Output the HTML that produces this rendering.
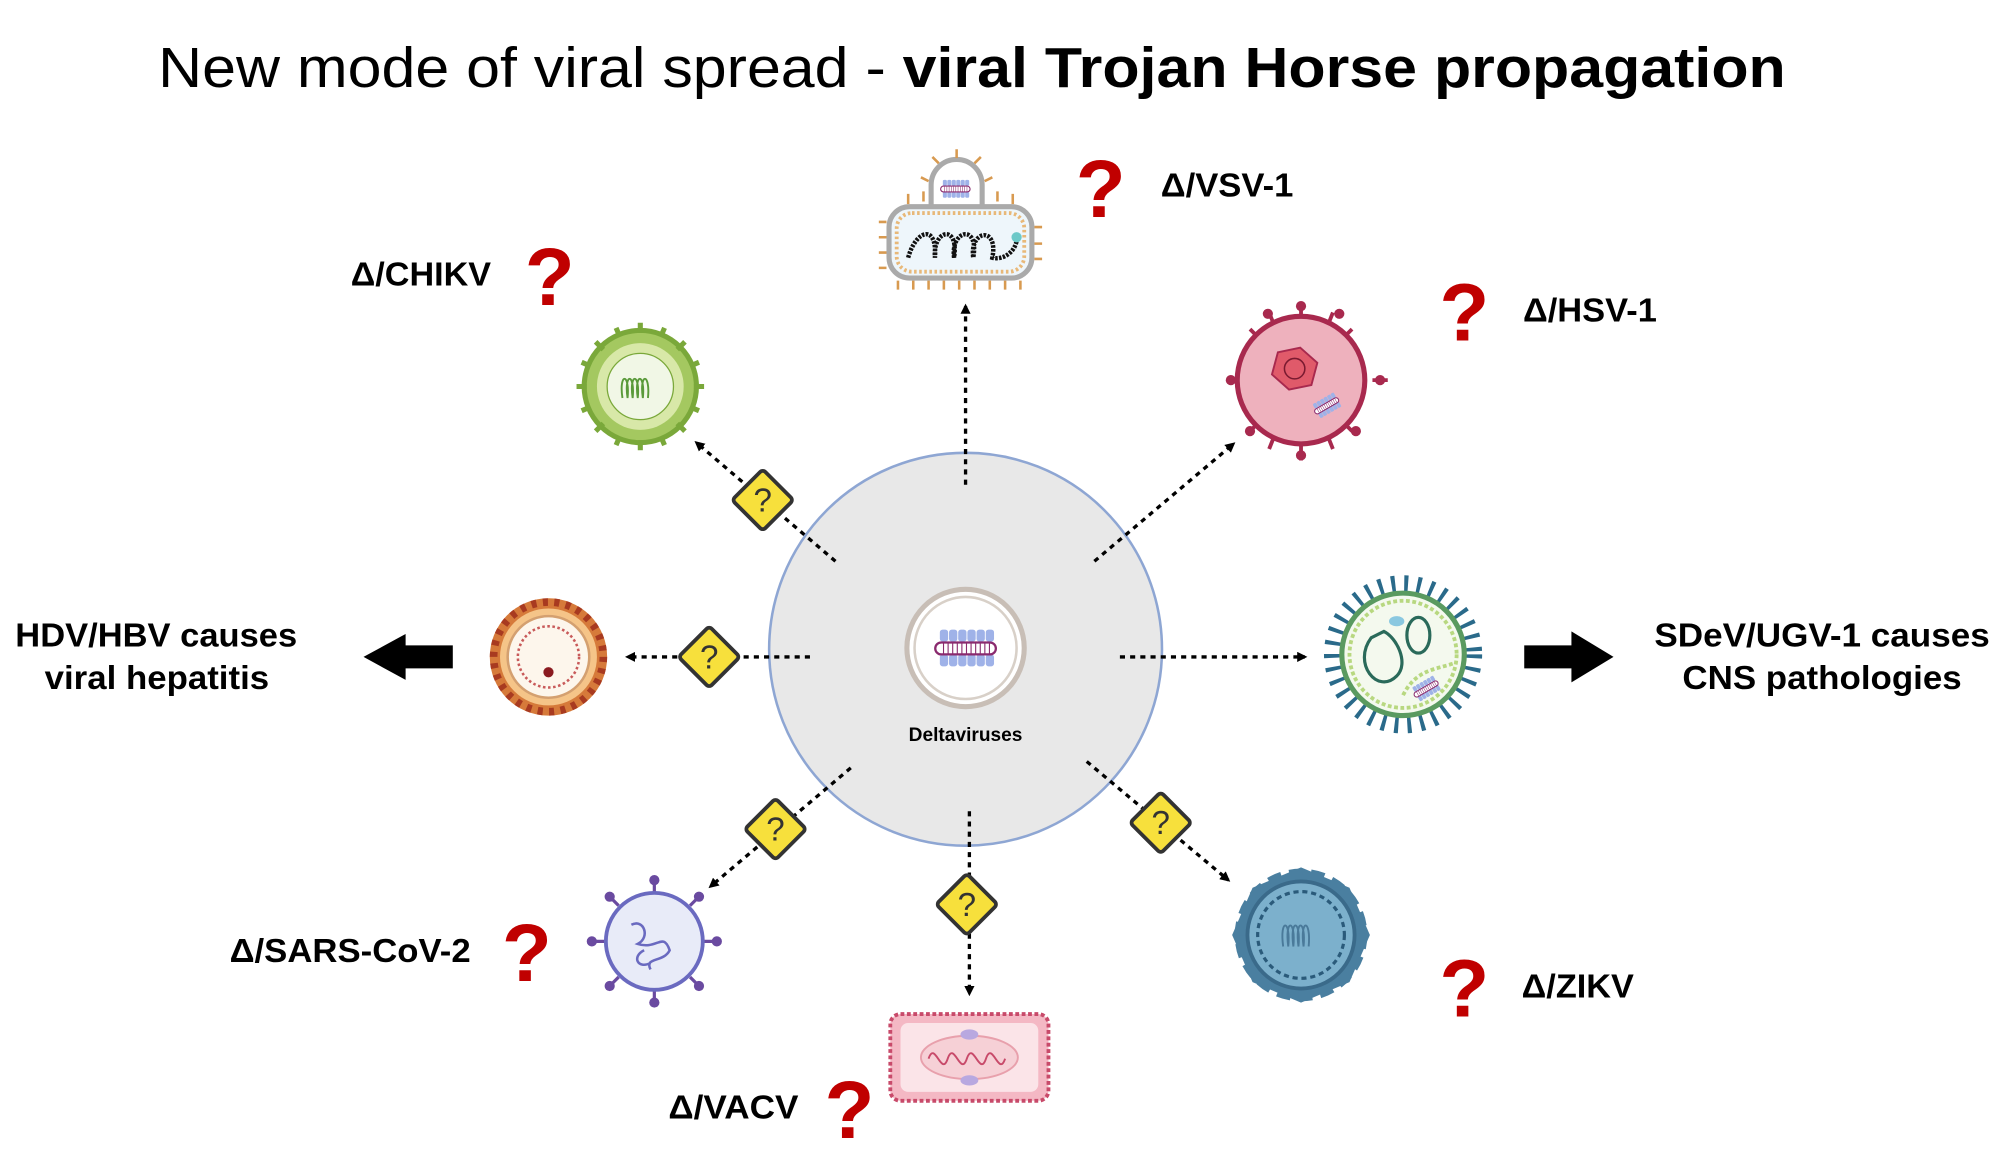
<!DOCTYPE html>
<html><head><meta charset="utf-8"><style>
html,body{margin:0;padding:0;background:#fff;}
svg{display:block;}
text{font-family:"Liberation Sans",Arial,sans-serif;}
</style></head><body>
<svg width="2000" height="1154" viewBox="0 0 1568 904.7" xmlns="http://www.w3.org/2000/svg">
<defs>
<marker id="ah" markerWidth="8" markerHeight="8" refX="6" refY="4" orient="auto" markerUnits="userSpaceOnUse">
<path d="M0,0 L8,4 L0,8 Z" fill="#000"/></marker>
<g id="dia"><rect x="-17" y="-17" width="34" height="34" rx="3" transform="rotate(45)" fill="#f7e03c" stroke="#333" stroke-width="3"/>
<text x="0" y="9" font-family="Liberation Serif,serif" font-size="26" text-anchor="middle" fill="#333">?</text></g>
<g id="rna"><g fill="#9fb2e8"><rect x="-28" y="-20" width="9" height="13" rx="3"/><rect x="-18" y="-20" width="9" height="13" rx="3"/><rect x="-8" y="-20" width="9" height="13" rx="3"/><rect x="2" y="-20" width="9" height="13" rx="3"/><rect x="12" y="-20" width="9" height="13" rx="3"/><rect x="22" y="-20" width="9" height="13" rx="3"/>
<rect x="-28" y="7" width="9" height="13" rx="3"/><rect x="-18" y="7" width="9" height="13" rx="3"/><rect x="-8" y="7" width="9" height="13" rx="3"/><rect x="2" y="7" width="9" height="13" rx="3"/><rect x="12" y="7" width="9" height="13" rx="3"/><rect x="22" y="7" width="9" height="13" rx="3"/></g>
<rect x="-33" y="-6" width="66" height="13" rx="6.5" fill="#fff" stroke="#8a2a6e" stroke-width="2.5"/>
<path d="M-24,-5v11M-19,-5v11M-14,-5v11M-9,-5v11M-4,-5v11M1,-5v11M6,-5v11M11,-5v11M16,-5v11M21,-5v11M26,-5v11" stroke="#8a2a6e" stroke-width="1.2"/></g>
</defs>
<rect width="1568" height="905" fill="#fff"/>
<text x="124" y="68" font-size="44" textLength="1276" lengthAdjust="spacingAndGlyphs">New mode of viral spread - <tspan font-weight="bold">viral Trojan Horse propagation</tspan></text>

<circle cx="757" cy="509" r="154" fill="#e8e8e8" stroke="#8ea6d3" stroke-width="2"/>
<circle cx="757" cy="508" r="46" fill="#fff" stroke="#c8beb6" stroke-width="4"/>
<circle cx="757" cy="508" r="40" fill="none" stroke="#d8d0c8" stroke-width="2"/>
<use href="#rna" transform="translate(757,508) scale(0.72)"/>
<text x="757" y="581" font-size="15" font-weight="bold" text-anchor="middle">Deltaviruses</text>

<g stroke="#000" stroke-width="2.6" stroke-dasharray="4 4" fill="none" marker-end="url(#ah)">
<line x1="757" y1="380" x2="757" y2="240"/>
<line x1="655" y1="440" x2="546" y2="347"/>
<line x1="858" y1="440" x2="967" y2="348"/>
<line x1="635" y1="515" x2="492" y2="515"/>
<line x1="878" y1="515" x2="1023" y2="515"/>
<line x1="667" y1="602" x2="557" y2="695"/>
<line x1="760" y1="636" x2="760" y2="779"/>
<line x1="852" y1="597" x2="963" y2="690"/>
</g>
<use href="#dia" x="598" y="392"/>
<use href="#dia" x="556" y="515"/>
<use href="#dia" x="608" y="650"/>
<use href="#dia" x="758" y="709"/>
<use href="#dia" x="910" y="645"/>

<path d="M355,506 H318 V497 L285,515 L318,533 V524 H355 Z" fill="#000"/>
<path d="M1195,506 H1232 V495 L1265,515 L1232,535 V524 H1195 Z" fill="#000"/>

<g font-weight="bold" font-size="26">
<text x="12" y="507" textLength="221" lengthAdjust="spacingAndGlyphs">HDV/HBV causes</text>
<text x="35" y="540" textLength="176" lengthAdjust="spacingAndGlyphs">viral hepatitis</text>
<text x="1297" y="507" textLength="263" lengthAdjust="spacingAndGlyphs">SDeV/UGV-1 causes</text>
<text x="1319" y="540" textLength="219" lengthAdjust="spacingAndGlyphs">CNS pathologies</text>
<text x="910" y="154" textLength="104" lengthAdjust="spacingAndGlyphs">Δ/VSV-1</text>
<text x="275" y="224" textLength="110" lengthAdjust="spacingAndGlyphs">Δ/CHIKV</text>
<text x="1194" y="252" textLength="105" lengthAdjust="spacingAndGlyphs">Δ/HSV-1</text>
<text x="180" y="754" textLength="189" lengthAdjust="spacingAndGlyphs">Δ/SARS-CoV-2</text>
<text x="524" y="877" textLength="102" lengthAdjust="spacingAndGlyphs">Δ/VACV</text>
<text x="1193" y="782" textLength="88" lengthAdjust="spacingAndGlyphs">Δ/ZIKV</text>
</g>
<g font-weight="bold" font-size="64" fill="#c00000" text-anchor="middle">
<text x="863" y="170">?</text>
<text x="431" y="239">?</text>
<text x="1148" y="267">?</text>
<text x="413" y="769">?</text>
<text x="666" y="892">?</text>
<text x="1148" y="797">?</text>
</g>

<!-- VSV -->
<g>
<path d="M730,163 V145 a20,20 0 0 1 40,0 V163" fill="#fff" stroke="#aaa" stroke-width="4"/>
<rect x="697" y="162" width="112" height="56" rx="16" fill="#eef6fb" stroke="#aaa" stroke-width="4"/>
<rect x="703" y="167" width="100" height="46" rx="12" fill="none" stroke="#e8b878" stroke-width="3" stroke-dasharray="2 2"/>
<g stroke="#d89a50" stroke-width="2">
<path d="M695,174h-6M695,186h-6M695,198h-6M695,210h-6M811,178h6M811,191h6M811,203h6"/>
<path d="M704,220v7M716,220v7M728,220v7M740,220v7M752,220v7M764,220v7M776,220v7M788,220v7M800,220v7M712,160v-8M724,158v-8M782,158v-8M794,160v-8M728,142l-6,-3M772,142l6,-3M736,128l-5,-5M764,128l5,-5M750,124v-7"/>
</g>
<path d="M712,202 C718,180 735,175 733,202 C731,180 752,175 748,202 C745,180 768,175 763,202 C760,180 783,177 778,202 C785,204 795,199 797,189" fill="none" stroke="#111" stroke-width="3.5" stroke-dasharray="2 1"/>
<circle cx="797" cy="186" r="4" fill="#6cc8c8"/>
<use href="#rna" transform="translate(749,148) scale(0.35)"/>
</g>

<!-- CHIKV -->
<g>
<circle cx="502" cy="303" r="44" fill="#a4c860" stroke="#7aa83a" stroke-width="4"/>
<circle cx="502" cy="303" r="34" fill="#d8e8a8"/>
<circle cx="502" cy="303" r="26" fill="#f1f7e6" stroke="#7aa83a" stroke-width="1"/>
<path d="M488,312 c-3,-20 6,-20 4,0 c-3,-20 6,-20 4,0 c-3,-20 6,-20 4,0 c-3,-20 6,-20 4,0 c-3,-20 6,-20 4,0" fill="none" stroke="#5a9a3a" stroke-width="1.5"/>
<g stroke="#7aa83a" stroke-width="4">
<path d="M502,253v8M502,345v8M452,303h8M544,303h8M467,268l6,6M537,268l-6,6M467,338l6,-6M537,338l-6,-6M483,257l3,7M521,257l-3,7M483,349l3,-7M521,349l-3,-7M456,284l7,3M548,284l-7,3M456,322l7,-3M548,322l-7,-3"/>
</g>
</g>

<!-- HSV -->
<g>
<g stroke="#a8294e" stroke-width="3">
<path d="M1020,237v14M1020,347v14M963,298h12M1076,298h12M980,258l9,9M1060,258l-9,9M980,338l9,-9M1060,338l-9,-9M995,245l4,10M1045,245l-4,10M995,352l4,-10M1045,352l-4,-10"/>
</g>
<g fill="#a8294e"><circle cx="1020" cy="240" r="4"/><circle cx="994" cy="246" r="4"/><circle cx="1050" cy="246" r="4"/><circle cx="965" cy="298" r="4"/><circle cx="1082" cy="298" r="4"/><circle cx="1020" cy="357" r="4"/><circle cx="980" cy="338" r="4"/><circle cx="1063" cy="338" r="4"/></g>
<circle cx="1020" cy="298" r="50" fill="#eeb1bd" stroke="#a8294e" stroke-width="4"/>
<polygon points="1015,272 1031,280 1031,298 1015,306 999,298 999,280" fill="#e05a6a" stroke="#a8294e" stroke-width="1.5" transform="rotate(15,1015,289)"/>
<circle cx="1015" cy="289" r="8" fill="none" stroke="#7a1a30" stroke-width="1.2"/>
<use href="#rna" transform="translate(1040,318) rotate(-30) scale(0.32)"/>
</g>

<!-- HDV -->
<g>
<circle cx="430" cy="515" r="46" fill="#d67a3a"/>
<circle cx="430" cy="515" r="38" fill="#f5c488"/>
<circle cx="430" cy="515" r="32" fill="#fdf6ec" stroke="#d4a070" stroke-width="2"/>
<circle cx="430" cy="515" r="24" fill="none" stroke="#c85a5a" stroke-width="2" stroke-dasharray="2 2"/>
<circle cx="430" cy="527" r="4" fill="#8a1a20"/>
<circle cx="430" cy="515" r="43" fill="none" stroke="#a83a20" stroke-width="6" stroke-dasharray="4 5"/>
</g>

<!-- SDeV/UGV -->
<g>
<circle cx="1100" cy="513" r="55" fill="none" stroke="#2a6a8a" stroke-width="14" stroke-dasharray="3 7"/>
<circle cx="1100" cy="513" r="48" fill="#f4f9ee" stroke="#5a9a60" stroke-width="4"/>
<circle cx="1100" cy="513" r="42" fill="none" stroke="#b8d880" stroke-width="3" stroke-dasharray="3 2"/>
<path d="M1075,500 c-15,20 5,45 20,30 c10,-10 0,-30 -10,-35 z" fill="none" stroke="#2a6a5a" stroke-width="2.5"/>
<ellipse cx="1112" cy="498" rx="9" ry="14" fill="none" stroke="#2a6a5a" stroke-width="2.5"/>
<ellipse cx="1095" cy="487" rx="6" ry="4" fill="#8ac8e0"/>
<path d="M1100,545 c10,-20 25,-20 40,-25" fill="none" stroke="#b8d880" stroke-width="3" stroke-dasharray="3 2"/>
<use href="#rna" transform="translate(1118,540) rotate(-30) scale(0.32)"/>
</g>

<!-- SARS -->
<g>
<g stroke="#6a4aa0" stroke-width="2.5">
<path d="M513,688v12M513,776v12M462,738h12M552,738h12M477,702l8,8M549,702l-8,8M477,774l8,-8M549,774l-8,-8"/>
</g>
<g fill="#6a4aa0"><circle cx="513" cy="690" r="4"/><circle cx="513" cy="786" r="4"/><circle cx="464" cy="738" r="4"/><circle cx="562" cy="738" r="4"/><circle cx="478" cy="703" r="4"/><circle cx="548" cy="703" r="4"/><circle cx="478" cy="773" r="4"/><circle cx="548" cy="773" r="4"/></g>
<circle cx="513" cy="738" r="38" fill="#e8ebf8" stroke="#6a6ac0" stroke-width="3"/>
<path d="M495,725 c10,-5 15,10 5,15 c15,5 20,-10 25,5 c-5,10 -20,5 -15,15 M505,745 c-10,5 -5,15 5,10" fill="none" stroke="#6a6ac0" stroke-width="2"/>
</g>

<!-- VACV -->
<g>
<rect x="698" y="795" width="124" height="68" rx="8" fill="#f4b8c4" stroke="#c84a6a" stroke-width="3" stroke-dasharray="3 2"/>
<rect x="706" y="802" width="108" height="54" rx="6" fill="#fbe4e8"/>
<ellipse cx="760" cy="829" rx="38" ry="17" fill="#f6d0d6" stroke="#e8a0ac" stroke-width="1.5"/>
<path d="M728,830 c5,-15 10,15 15,0 c5,-15 10,15 15,0 c5,-15 10,15 15,0 c5,-15 10,15 15,0" fill="none" stroke="#c84a6a" stroke-width="1.5"/>
<ellipse cx="760" cy="811" rx="7" ry="4" fill="#b8a8e0"/>
<ellipse cx="760" cy="847" rx="7" ry="4" fill="#b8a8e0"/>
</g>

<!-- ZIKV -->
<g>
<polygon points="1020,680 1058,696 1074,733 1058,770 1020,786 982,770 966,733 982,696" fill="#4a7fa0"/>
<circle cx="1020" cy="733" r="46" fill="none" stroke="#4a7fa0" stroke-width="12" stroke-dasharray="10 6"/>
<circle cx="1020" cy="733" r="42" fill="#7cb0cc" stroke="#3a6a8a" stroke-width="3"/>
<circle cx="1020" cy="733" r="34" fill="none" stroke="#2a5a7a" stroke-width="2.5" stroke-dasharray="4 3"/>
<path d="M1006,742 c-3,-22 6,-22 4,0 c-3,-22 6,-22 4,0 c-3,-22 6,-22 4,0 c-3,-22 6,-22 4,0 c-3,-22 6,-22 4,0" fill="none" stroke="#4a7a9a" stroke-width="1.5"/>
</g>
</svg>
</body></html>
